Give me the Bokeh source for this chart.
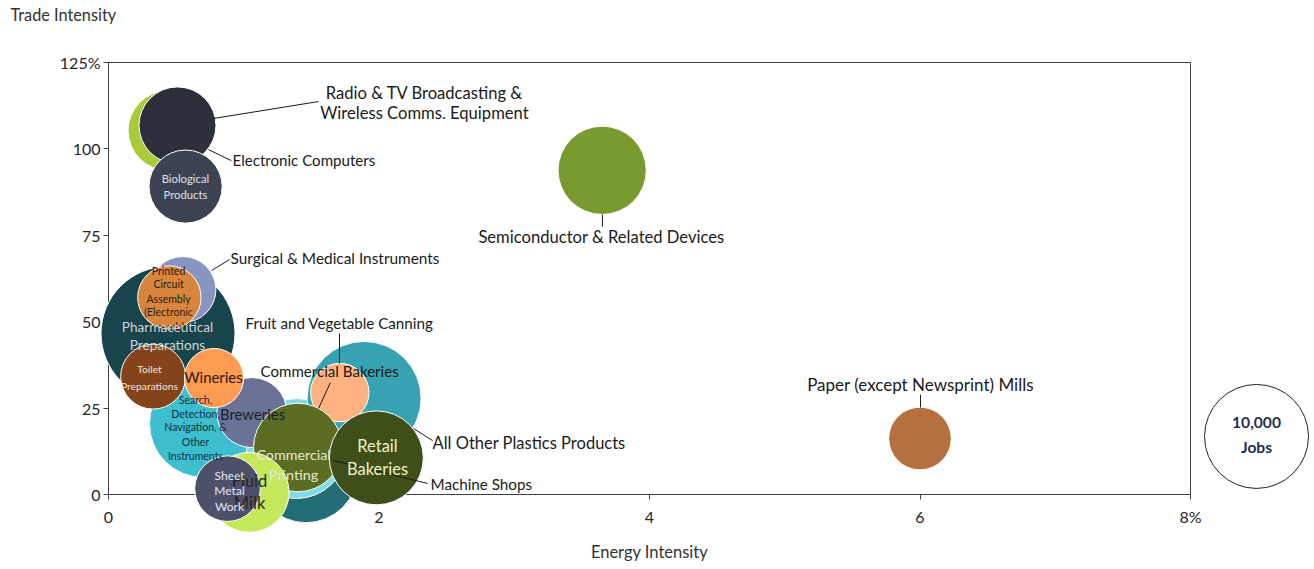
import numpy as np
from bokeh.plotting import figure
from bokeh.models import Range1d, FixedTicker, ColumnDataSource
from bokeh.core.properties import value
from bokeh.embed import file_html
from bokeh.resources import INLINE

# ---------------- data (drawing order: back to front) ----------------
industries = [
    "Electronic Computers", "Radio & TV Broadcasting & Wireless Comms. Equipment",
    "Biological Products", "Semiconductor & Related Devices",
    "Paper (except Newsprint) Mills", "Pharmaceutical Preparations",
    "Surgical & Medical Instruments", "Printed Circuit Assembly (Electronic Assembly)",
    "Search, Detection, Navigation, & Other Instruments", "Machine Shops",
    "Commercial Bakeries", "All Other Plastics Products",
    "Fruit and Vegetable Canning", "Breweries", "Toilet Preparations", "Wineries",
    "Commercial Printing", "Retail Bakeries", "Fluid Milk", "Sheet Metal Work",
]
energy_intensity = [0.44, 0.51, 0.57, 3.65, 6.00, 0.44, 0.55, 0.45, 0.70, 1.46,
                    1.39, 1.89, 1.71, 1.06, 0.33, 0.78, 1.40, 1.98, 1.04, 0.88]
trade_intensity = [105.3, 106.8, 89.1, 93.8, 16.2, 46.6, 59.3, 57.0, 20.5, 6.9,
                   13.3, 27.8, 29.5, 23.7, 34.1, 33.7, 13.6, 10.6, 0.6, 1.7]
jobs = [5900, 5480, 4950, 7200, 3620, 16600, 4030, 3720, 10660, 10000,
        9250, 12000, 3150, 4530, 3900, 3240, 7260, 8170, 5900, 3980]
colors = ["#a9cb3b", "#2b303b", "#3b4252", "#789a2f", "#b5703d", "#17454b",
          "#8795c0", "#d8853e", "#3dbfcf", "#236d77", "#7fdbe6", "#37a3b2",
          "#ffb27f", "#6a7396", "#84431a", "#fd9b52", "#5a6d23", "#3e4f1a",
          "#c5e85c", "#4b5169"]

legend_jobs = 10000
x_ticks = [0, 2, 4, 6, 8]
y_ticks = [0, 25, 50, 75, 100, 125]

# label lines (text, x, y, align, size, colour, style)
DARK = "#1a1a1a"
label_text = [
    "Radio & TV Broadcasting &", "Wireless Comms. Equipment", "Electronic Computers",
    "Semiconductor & Related Devices", "Surgical & Medical Instruments",
    "Fruit and Vegetable Canning", "Commercial Bakeries", "All Other Plastics Products",
    "Machine Shops", "Paper (except Newsprint) Mills",
    "Biological", "Products",
    "Printed", "Circuit", "Assembly", "(Electronic", "Assembly)",
    "Pharmaceutical", "Preparations",
    "Toilet", "Preparations", "Wineries",
    "Search,", "Detection,", "Navigation, &", "Other", "Instruments",
    "Breweries", "Commercial", "Printing", "Retail", "Bakeries",
    "Fluid", "Milk", "Sheet", "Metal", "Work",
    "10,000", "Jobs", "Trade Intensity",
]
label_x = [2.336, 2.336, 0.917, 3.645, 0.902, 1.013, 1.124, 2.396, 2.381, 6.004,
           0.569, 0.569,
           0.444, 0.444, 0.444, 0.444, 0.444,
           0.436, 0.436,
           0.303, 0.303, 0.776,
           0.643, 0.643, 0.643, 0.643, 0.643,
           1.065, 1.368, 1.368, 1.989, 1.989,
           1.043, 1.043, 0.895, 0.895, 0.895,
           8.488, 8.488, -0.725]
label_y = [116.3, 110.5, 96.9, 74.4, 68.3, 49.5, 35.6, 15.0, 2.9, 31.8,
           91.4, 86.8,
           64.8, 60.8, 56.7, 52.7, 48.6,
           48.6, 43.4,
           36.2, 31.5, 33.9,
           27.2, 23.4, 19.4, 15.3, 11.0,
           23.4, 11.6, 5.8, 13.9, 7.5,
           3.8, -2.6, 5.5, 1.2, -3.5,
           20.9, 13.7, 138.9]
label_align = (["center", "center", "left", "center", "left", "left", "left", "left",
                "left", "center"] + ["center"] * 29 + ["left"])
label_size = (["16.6px", "16.6px", "15.1px", "16.6px", "15.4px", "15.2px", "15.1px",
               "16.5px", "15.2px", "17px",
               "11.3px", "11.3px"] + ["10.5px"] * 5 + ["13.6px", "13.6px",
               "10.3px", "10.3px", "14.9px"] + ["10.5px"] * 5 +
              ["14.9px", "14.3px", "14.3px", "16.5px", "16.5px",
               "16.5px", "16.5px", "12px", "12px", "12px",
               "15.6px", "15.6px", "16.3px"])
label_color = ([DARK] * 10 + ["#dfe3ea"] * 2 + ["#2b1d10"] * 5 + ["#c9d6dc"] * 2 +
               ["#f3e4d6"] * 2 + ["#2a1a0a"] + ["#10303a"] * 5 + ["#1a1f30"] +
               ["#e4ead0"] * 2 + ["#eef0c8"] * 2 + ["#262626"] * 2 +
               ["#e6e8f0"] * 3 + ["#1f3050"] * 2 + ["#333333"])
label_style = ["normal"] * 37 + ["bold", "bold", "normal"]

# leader lines
lead_x0 = [0.776, 0.739, 0.762, 3.652, 1.708, 1.641, 2.255, 1.664, 6.004]
lead_y0 = [108.8, 99.8, 64.8, 81.0, 46.6, 32.4, 19.1, 9.8, 28.9]
lead_x1 = [1.553, 0.909, 0.895, 3.652, 1.708, 1.553, 2.396, 2.359, 6.004]
lead_y1 = [113.7, 96.6, 68.0, 77.5, 37.9, 24.9, 15.6, 3.2, 25.2]

# ---------------- figure ----------------
FONT = "Lato"
AX = "#404040"
p = figure(width=1310, height=564, output_backend="svg", toolbar_location=None,
           x_range=Range1d(0, 8), y_range=Range1d(0, 125),
           min_border_left=108, min_border_right=120, min_border_top=62,
           min_border_bottom=70)
p.title.visible = False
p.xgrid.visible = False
p.ygrid.visible = False
p.background_fill_color = "white"
p.border_fill_color = "white"
p.outline_line_color = AX
p.outline_line_width = 1

for ax in (p.xaxis, p.yaxis):
    ax.axis_line_color = AX
    ax.major_tick_line_color = AX
    ax.major_tick_out = 5
    ax.major_tick_in = 0
    ax.minor_tick_line_color = None
    ax.major_label_text_font = FONT
    ax.major_label_text_font_size = "16px"
    ax.major_label_text_color = "#262626"

p.xaxis.ticker = FixedTicker(ticks=x_ticks)
p.yaxis.ticker = FixedTicker(ticks=y_ticks)
p.xaxis.major_label_overrides = {8: "8%"}
p.yaxis.major_label_overrides = {125: "125%"}
p.xaxis.major_label_standoff = 7
p.yaxis.major_label_standoff = 3
p.xaxis.axis_label = "Energy Intensity"
p.xaxis.axis_label_text_font = FONT
p.xaxis.axis_label_text_font_size = "16.5px"
p.xaxis.axis_label_text_font_style = "normal"
p.xaxis.axis_label_text_color = "#333333"
p.xaxis.axis_label_standoff = 13

# bubbles: area proportional to jobs, legend bubble = 10,000 jobs
size_px = 104 * np.sqrt(np.array(jobs) / legend_jobs)
src = ColumnDataSource(dict(x=energy_intensity, y=trade_intensity, size=size_px,
                            color=colors, name=industries))
p.scatter("x", "y", size="size", fill_color="color", line_color="white",
          line_width=1, source=src, level="annotation")

# legend bubble
p.scatter([8.488], [16.8], size=104 * np.sqrt(legend_jobs / legend_jobs),
          fill_color="white", line_color="#222222", line_width=1, level="annotation")

# leader lines
p.segment(lead_x0, lead_y0, lead_x1, lead_y1, line_color="#1a1a1a", line_width=1,
          level="annotation")

# labels
lsrc = ColumnDataSource(dict(text=label_text, x=label_x, y=label_y, align=label_align,
                             size=label_size, color=label_color, style=label_style))
p.text("x", "y", text="text", source=lsrc, text_font=value(FONT),
       text_font_size="size", text_color="color", text_align="align",
       text_font_style="style", text_baseline="middle", level="annotation")

open("out.html", "w").write(file_html(p, INLINE))
